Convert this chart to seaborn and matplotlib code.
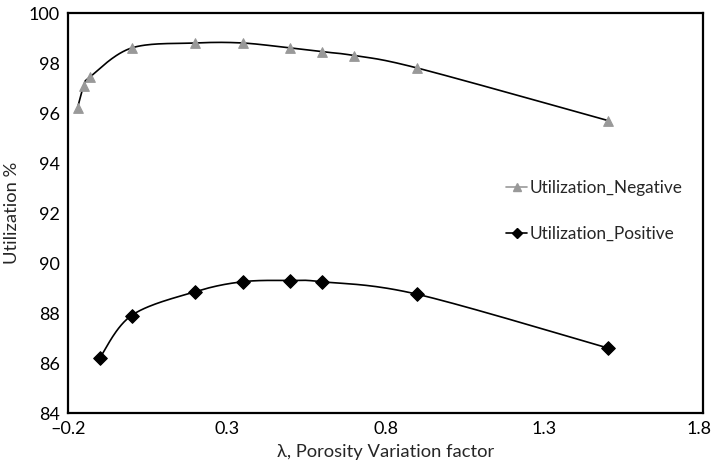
import numpy as np
import pandas as pd
import matplotlib
matplotlib.use("Agg")
import matplotlib.pyplot as plt
import matplotlib.transforms as mtransforms
from matplotlib.lines import Line2D
import seaborn as sns

# Porosity variation factor and utilization readings
lam_negative = [-0.17, -0.15, -0.13, 0.0, 0.2, 0.35, 0.5, 0.6, 0.7, 0.9, 1.5]
util_negative = [96.2, 97.1, 97.45, 98.6, 98.8, 98.8, 98.6, 98.45, 98.3, 97.8, 95.7]

lam_positive = [-0.1, 0.0, 0.2, 0.35, 0.5, 0.6, 0.9, 1.5]
util_positive = [86.2, 87.9, 88.85, 89.25, 89.3, 89.25, 88.75, 86.6]

series_names = ["Utilization_Negative", "Utilization_Positive"]
x_ticks = [-0.2, 0.3, 0.8, 1.3, 1.8]
y_ticks = list(range(84, 101, 2))


def smooth_curve(xs, ys, sx=319.0, sy=25.0, n=30):
    """Bezier smoothing through the points (control points from neighbours),
    computed in a screen-like scaled space so the curve bends evenly."""
    P = np.column_stack([np.asarray(xs) * sx, np.asarray(ys) * sy])
    m = len(P)
    out = []
    for i in range(m - 1):
        p0 = P[i - 1] if i > 0 else P[i]
        p1, p2 = P[i], P[i + 1]
        p3 = P[i + 2] if i + 2 < m else P[i + 1]
        c1 = p1 + (p2 - p0) / 6.0
        c2 = p2 - (p3 - p1) / 6.0
        t = np.linspace(0, 1, n, endpoint=(i == m - 2))[:, None]
        seg = ((1 - t) ** 3) * p1 + 3 * ((1 - t) ** 2) * t * c1 + 3 * (1 - t) * t ** 2 * c2 + t ** 3 * p2
        out.append(seg)
    out = np.vstack(out)
    return out[:, 0] / sx, out[:, 1] / sy


sns.set_style("white")
plt.rcParams["font.family"] = ["Lato", "DejaVu Sans"]

fig = plt.figure(figsize=(7.13, 4.71), dpi=100)
ax = fig.add_axes([68 / 713, 1 - 413 / 471, 635 / 713, 400 / 471])

gray = "#999999"
styles = {
    series_names[0]: dict(marker="^", color=gray, size=48),
    series_names[1]: dict(marker="D", color="black", size=48),
}

for name, xs, ys in [(series_names[0], lam_negative, util_negative),
                     (series_names[1], lam_positive, util_positive)]:
    cx, cy = smooth_curve(xs, ys)
    curve = pd.DataFrame({"lam": cx, "util": cy})
    sns.lineplot(data=curve, x="lam", y="util", ax=ax, color="black",
                 linewidth=1.2, sort=False, estimator=None, legend=False)
    pts = pd.DataFrame({"lam": xs, "util": ys})
    st = styles[name]
    sns.scatterplot(data=pts, x="lam", y="util", ax=ax, marker=st["marker"],
                    color=st["color"], s=st["size"], edgecolor=st["color"],
                    linewidth=0.8, legend=False, zorder=3)

fs = 13.2
ax.set_xlim(-0.2, 1.8)
ax.set_ylim(84, 100)
ax.set_xticks(x_ticks)
ax.set_xticklabels([f"{v:.1f}".replace("-", "\u2013") for v in x_ticks])
ax.set_yticks(y_ticks)
ax.tick_params(axis="both", direction="inout", length=8, width=1.4,
               color="black", labelsize=13, pad=2, labelcolor="black")
for sp in ax.spines.values():
    sp.set_visible(True)
    sp.set_color("black")
    sp.set_linewidth(1.6)

# nudge the rightmost tick label inward so it stays inside the figure
last = ax.get_xticklabels()[-1]
last.set_transform(last.get_transform() +
                   mtransforms.ScaledTranslation(-3 / 72, 0, fig.dpi_scale_trans))

ax.set_xlabel("\u03bb, Porosity Variation factor", fontsize=fs, labelpad=5)
ax.set_ylabel("Utilization %", fontsize=fs, labelpad=6)

handles = [
    Line2D([], [], color=gray, marker="^", markersize=5.5, linewidth=1.2,
           markerfacecolor=gray, markeredgecolor=gray),
    Line2D([], [], color="black", marker="D", markersize=5, linewidth=1.2),
]
ax.legend(handles, series_names, loc="center left",
          bbox_to_anchor=(0.666, 0.505), frameon=False, fontsize=12.4,
          handlelength=1.2, handletextpad=0.15, labelspacing=1.75)

fig.savefig("out.png", dpi=100)
